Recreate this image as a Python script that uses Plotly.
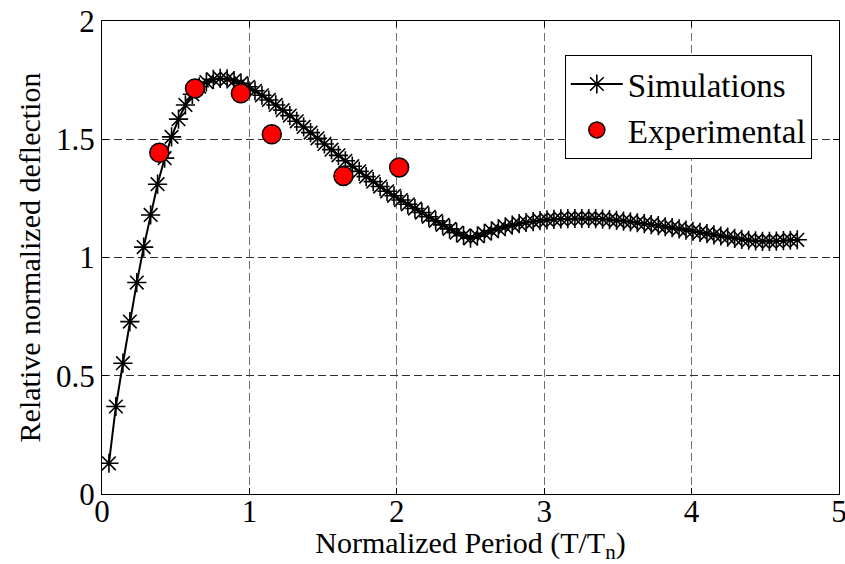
import plotly.graph_objects as go

# Simulation curve (normalized period, relative normalized deflection)
sim_x = [0.047, 0.094, 0.142, 0.189, 0.236, 0.283, 0.330, 0.377, 0.425, 0.472,
         0.519, 0.566, 0.613, 0.660, 0.708, 0.755, 0.802, 0.849, 0.896, 0.943,
         0.991, 1.038, 1.085, 1.132, 1.179, 1.226, 1.274, 1.321, 1.368, 1.415,
         1.462, 1.509, 1.557, 1.604, 1.651, 1.698, 1.745, 1.792, 1.840, 1.887,
         1.934, 1.981, 2.028, 2.075, 2.123, 2.170, 2.217, 2.264, 2.311, 2.358,
         2.406, 2.453, 2.500, 2.547, 2.594, 2.642, 2.689, 2.736, 2.783, 2.830,
         2.877, 2.925, 2.972, 3.019, 3.066, 3.113, 3.160, 3.208, 3.255, 3.302,
         3.349, 3.396, 3.443, 3.491, 3.538, 3.585, 3.632, 3.679, 3.726, 3.774,
         3.821, 3.868, 3.915, 3.962, 4.009, 4.057, 4.104, 4.151, 4.198, 4.245,
         4.292, 4.340, 4.387, 4.434, 4.481, 4.528, 4.575, 4.623, 4.670, 4.717]
sim_y = [0.130, 0.370, 0.553, 0.729, 0.894, 1.044, 1.180, 1.310, 1.420, 1.510,
         1.585, 1.645, 1.690, 1.722, 1.742, 1.753, 1.757, 1.755, 1.748, 1.737,
         1.722, 1.705, 1.686, 1.666, 1.645, 1.623, 1.600, 1.576, 1.552, 1.528,
         1.504, 1.480, 1.456, 1.432, 1.409, 1.386, 1.364, 1.342, 1.321, 1.300,
         1.280, 1.261, 1.243, 1.225, 1.207, 1.190, 1.172, 1.155, 1.138, 1.121,
         1.105, 1.092, 1.082, 1.090, 1.102, 1.113, 1.122, 1.130, 1.137, 1.143,
         1.148, 1.152, 1.156, 1.159, 1.161, 1.163, 1.164, 1.165, 1.165, 1.165,
         1.164, 1.162, 1.160, 1.157, 1.154, 1.151, 1.147, 1.143, 1.139, 1.135,
         1.130, 1.126, 1.121, 1.116, 1.111, 1.106, 1.101, 1.096, 1.091, 1.086,
         1.081, 1.077, 1.073, 1.070, 1.068, 1.068, 1.069, 1.071, 1.073, 1.075]

# Experimental points
exp_x = [0.389, 0.631, 0.942, 1.152, 1.638, 2.016]
exp_y = [1.443, 1.715, 1.694, 1.521, 1.345, 1.381]

x_ticks = [0, 1, 2, 3, 4, 5]
y_ticks = [0, 0.5, 1, 1.5, 2]
y_tick_text = ["0", "0.5", "1", "1.5", "2"]

FONT = "Liberation Serif, Times New Roman, serif"

fig = go.Figure()
fig.add_trace(go.Scatter(
    x=sim_x, y=sim_y, mode="lines+markers", name="Simulations",
    line=dict(color="black", width=2),
    marker=dict(symbol="asterisk", size=16, color="black",
                line=dict(color="black", width=1.6)),
))
fig.add_trace(go.Scatter(
    x=exp_x, y=exp_y, mode="markers", name="Experimental",
    marker=dict(symbol="circle", size=19, color="#ff0000",
                line=dict(color="black", width=1.5)),
))

axis_common = dict(
    showline=True, linecolor="black", linewidth=1, mirror="ticks",
    ticks="inside", ticklen=6, tickcolor="black",
    showgrid=True, griddash="8px,4px", gridwidth=1,
    zeroline=False, tickfont=dict(family=FONT, size=31, color="black"),
    ticklabeloverflow="allow", automargin=False,
)

fig.update_xaxes(range=[0, 5], tickvals=x_ticks, ticktext=[str(v) for v in x_ticks],
                 gridcolor="#707070", ticklabelstandoff=-10,
                 title=dict(text="Normalized Period (T/T<sub>n</sub>)",
                            font=dict(family=FONT, size=30, color="black"), standoff=8),
                 **axis_common)
fig.update_yaxes(range=[0, 2], tickvals=y_ticks, ticktext=y_tick_text,
                 gridcolor="#303030", ticklabelstandoff=0,
                 title=dict(text="Relative normalized deflection",
                            font=dict(family=FONT, size=30, color="black"), standoff=6),
                 **axis_common)

fig.update_layout(
    width=845, height=564,
    margin=dict(l=102, r=6, t=21, b=70),
    paper_bgcolor="white", plot_bgcolor="white",
    font=dict(family=FONT, size=30, color="black"),
    legend=dict(x=0.628, y=0.928, xanchor="left", yanchor="top",
                bgcolor="white", bordercolor="black", borderwidth=1,
                font=dict(family=FONT, size=33, color="black"),
                tracegroupgap=0, itemwidth=52),
    showlegend=True,
)

fig.write_html("out.html")
